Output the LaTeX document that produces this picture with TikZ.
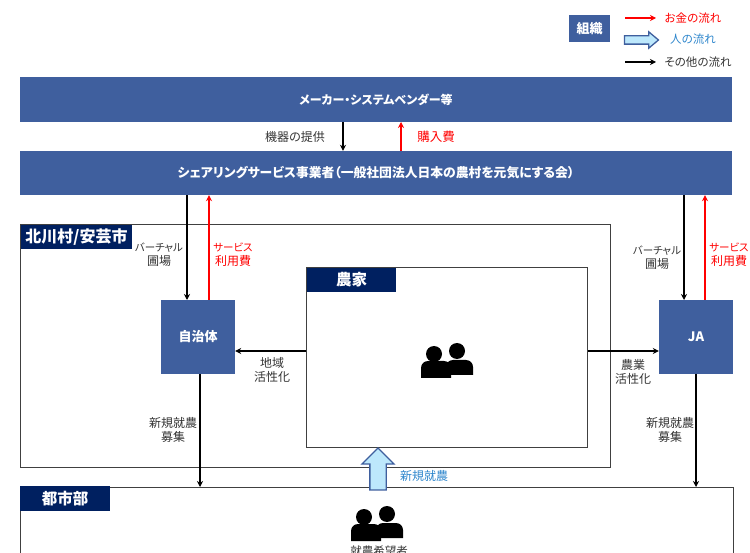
\documentclass[tikz,border=0pt]{standalone}
\usepackage{fontspec}
\setmainfont{Noto Sans CJK JP}[RawFeature=+palt]
\usetikzlibrary{arrows.meta,shapes.arrows}
\definecolor{barblue}{HTML}{3F5F9E}
\definecolor{tagnavy}{HTML}{002060}
\definecolor{linegrey}{HTML}{404040}
\definecolor{flowblue}{HTML}{2E86CC}
\definecolor{arrowfill}{HTML}{BDE8FC}
\newcommand{\kanaline}[1]{{\fontsize{10.5}{14}\selectfont #1}}
\tikzset{
	orgbox/.style={fill=barblue, text=white, font=\fontsize{13}{15}\selectfont\bfseries, inner sep=0pt},
	tagbox/.style={fill=tagnavy, text=white, font=\fontsize{15.5}{17}\selectfont\bfseries, inner sep=0pt},
	framebox/.style={draw=linegrey, line width=1.4pt, fill=none, inner sep=0pt, anchor=north west},
	lbl/.style={font=\fontsize{12}{14}\selectfont, text=black!80, align=center, inner sep=0pt},
	legendlbl/.style={lbl, font=\fontsize{11.5}{14}\selectfont},
	otherflow/.style={line width=1.5pt, -{Stealth[length=6pt,width=6pt]}},
	moneyflow/.style={otherflow, red},
	personflow/.style={single arrow, draw=barblue, fill=arrowfill, line width=1.3pt, inner sep=0pt},
	people/.pic={
		\fill (13,12) circle[radius=8];
		\fill (36,9) circle[radius=8];
		\fill (0,36) [rounded corners=7pt] -- (0,19) -- (30,19) [sharp corners] -- (30,36) -- cycle;
		\fill (25,33) [rounded corners=7pt] -- (25,18) -- (52,18) [sharp corners] -- (52,33) -- cycle;
	}
}
\begin{document}
\begin{tikzpicture}[x=1pt,y=-1pt]
	\path[use as bounding box] (0,0) rectangle (750,553);
	\clip (0,0) rectangle (750,553);
	% frames
	\node[framebox, minimum width=590pt, minimum height=243pt] (village) at (20,224) {};
	\node[framebox, minimum width=281pt, minimum height=180pt] (farmer) at (306,267) {};
	\node[framebox, minimum width=713pt, minimum height=100pt] (city) at (20,487) {};
	\node[tagbox, minimum width=111pt, minimum height=24pt, font=\fontsize{16}{18}\selectfont\bfseries] (villagetag) at (76.5,237) {北川村/安芸市};
	\node[tagbox, minimum width=89pt, minimum height=24pt] (farmertag) at (351.5,280) {農家};
	\node[tagbox, minimum width=90pt, minimum height=25pt] (citytag) at (65,498.5) {都市部};
	% organisations
	\node[orgbox, minimum width=712pt, minimum height=45pt, font=\fontsize{12}{14}\selectfont\bfseries] (vendor) at (376,99.5) {メーカー・システムベンダー等};
	\node[orgbox, minimum width=712pt, minimum height=44pt, font=\fontsize{12.8}{15}\selectfont\bfseries] (service) at (376,173) {シェアリングサービス事業者（一般社団法人日本の農村を元気にする会）};
	\node[orgbox, minimum width=74pt, minimum height=74pt] (local) at (198,337) {自治体};
	\node[orgbox, minimum width=74pt, minimum height=74pt] (ja) at (696,337) {JA};
	\node[orgbox, minimum width=41pt, minimum height=27pt] (legend) at (589.5,28.5) {組織};
	% connector ends
	\coordinate (machine) at (343,122);
	\coordinate (purchase) at (401,122);
	\coordinate (localfield) at (187,300);
	\coordinate (localfee) at (209,300);
	\coordinate (localdown) at (200,374);
	\coordinate (jafield) at (684,300);
	\coordinate (jafee) at (705,300);
	\coordinate (jadown) at (696,374);
	\coordinate (midrow) at (0,351);
	\draw[otherflow] (machine) -- (machine |- service.north);
	\draw[moneyflow] (purchase |- service.north) -- (purchase);
	\draw[otherflow] (service.south -| localfield) -- (localfield);
	\draw[moneyflow] (localfee) -- (service.south -| localfee);
	\draw[otherflow] (service.south -| jafield) -- (jafield);
	\draw[moneyflow] (jafee) -- (service.south -| jafee);
	\draw[otherflow] (farmer.west |- midrow) -- (local.east |- midrow);
	\draw[otherflow] (farmer.east |- midrow) -- (ja.west |- midrow);
	\draw[otherflow] (localdown) -- (localdown |- city.north);
	\draw[otherflow] (jadown) -- (jadown |- city.north);
	\node[personflow, rotate=90, minimum height=42pt, single arrow head extend=8pt, single arrow tip angle=90] (newfarmer) at (378,473) {\rule{0pt}{15pt}};
	% labels
	\node[lbl] (lblmachine) at (295,137) {機器の提供};
	\node[lbl, red, font=\fontsize{12.5}{14}\selectfont] (lblpurchase) at (436,137) {購入費};
	\node[lbl] (lblfieldl) at (159,255) {\kanaline{バーチャル}\\圃場};
	\node[lbl, red] (lblfeel) at (233,255) {\kanaline{サービス}\\利用費};
	\node[lbl] (lblfieldr) at (657,258) {\kanaline{バーチャル}\\圃場};
	\node[lbl, red] (lblfeer) at (729,255) {\kanaline{サービス}\\利用費};
	\node[lbl] (lblregion) at (272,370) {地域\\活性化};
	\node[lbl] (lblfarming) at (633,372) {農業\\活性化};
	\node[lbl] (lblrecruitl) at (173,430) {新規就農\\募集};
	\node[lbl] (lblrecruitr) at (670,430) {新規就農\\募集};
	\node[lbl, flowblue] (lblnew) at (424,476) {新規就農};
	% people
	\pic at (421,342) {people};
	\pic at (351,505) {people};
	\node[legendlbl] (lblhope) at (379,551) {就農希望者};
	% legend
	\coordinate (redstart) at (625,18);
	\coordinate (redend) at (656,18);
	\coordinate (blackstart) at (625,62);
	\coordinate (blackend) at (656,62);
	\draw[moneyflow] (redstart) -- (redend);
	\node[personflow, minimum height=34pt, single arrow head extend=4pt, single arrow tip angle=80] (legendperson) at (639,40) {\rule{0pt}{7pt}};
	\draw[otherflow] (blackstart) -- (blackend);
	\node[legendlbl, red] (lblmoney) at (693,18) {お金の流れ};
	\node[legendlbl, flowblue] (lblperson) at (693,39) {人の流れ};
	\node[legendlbl] (lblother) at (698,62) {その他の流れ};
\end{tikzpicture}
\end{document}
